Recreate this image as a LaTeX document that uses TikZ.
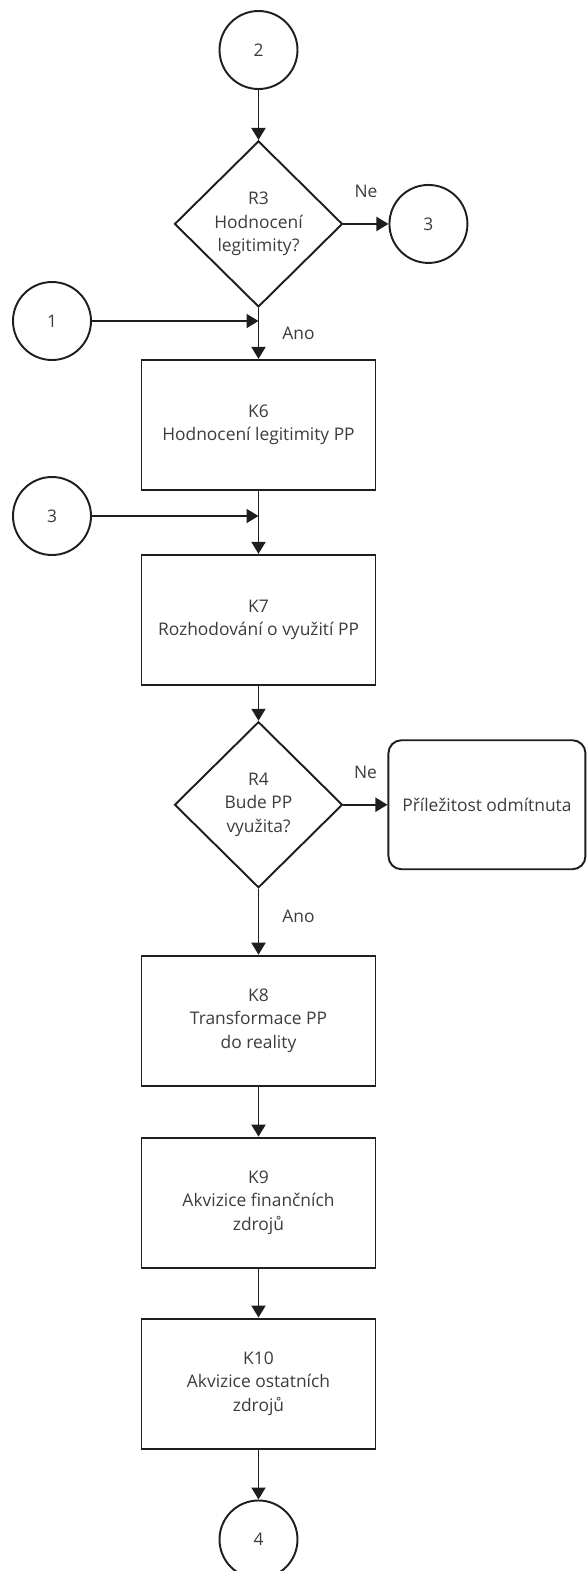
\documentclass[tikz,border=0pt]{standalone}
\usepackage{fontspec}
\setmainfont{Open Sans}
\usetikzlibrary{positioning,arrows.meta,calc,shapes.geometric}
\definecolor{fcline}{RGB}{30,30,30}
\definecolor{fctext}{RGB}{60,60,60}
\tikzset{
  stepbox/.style={draw=fcline, line width=1.1pt, align=center, minimum width=4.68cm, minimum height=2.6cm, inner sep=0pt, text=fctext, font=\fontsize{9.9}{13.4}\selectfont},
  decision/.style={draw=fcline, line width=1.1pt, diamond, aspect=1, minimum width=3.36cm, minimum height=3.32cm, inner sep=0pt, align=center, text=fctext, font=\fontsize{9.9}{13.4}\selectfont},
  connector/.style={draw=fcline, line width=1.1pt, circle, minimum size=1.56cm, inner sep=0pt, text=fctext, font=\fontsize{9.9}{13.4}\selectfont},
  endbox/.style={draw=fcline, line width=1.1pt, rounded corners=0.26cm, align=center, minimum width=3.94cm, minimum height=2.58cm, text=fctext, font=\fontsize{9.9}{13.4}\selectfont},
  lbl/.style={inner sep=0pt, text=fctext, font=\fontsize{9.9}{13.4}\selectfont},
  arrow/.style={-{Triangle[length=0.24cm, width=0.28cm]}, line width=1.1pt, fcline}
}
\begin{document}
\begin{tikzpicture}
        \useasboundingbox (0,0) rectangle (11.74,-31.42);
        \node[connector] (c2) at (5.17,-1.0) {2};
        \node[decision, below=1.0cm of c2] (r3) {R3\\Hodnocení\\legitimity?};
        \node[connector, right=0.9cm of r3] (c3r) {3};
        \node[stepbox, below=1.02cm of r3] (k6) {K6\\Hodnocení legitimity PP};
        \node[connector] (c1) at (1.04,-6.42) {1};
        \node[stepbox, below=1.26cm of k6] (k7) {K7\\Rozhodování o využití PP};
        \node[connector] (c3l) at (1.04,-10.32) {3};
        \node[decision, below=0.70cm of k7] (r4) {R4\\Bude PP\\využita?};
        \node[endbox, right=0.88cm of r4] (rej) {Příležitost odmítnuta};
        \node[stepbox, below=1.32cm of r4] (k8) {K8\\Transformace PP\\do reality};
        \node[stepbox, below=1.0cm of k8] (k9) {K9\\Akvizice finančních\\zdrojů};
        \node[stepbox, below=0.98cm of k9] (k10) {K10\\Akvizice ostatních\\zdrojů};
        \node[connector, below=1.0cm of k10] (c4) {4};
        \coordinate (j1) at (r3.south |- c1);
        \coordinate (j3) at (k6.south |- c3l);
        \draw[arrow] (r3) -- node[lbl, pos=0.5, yshift=0.66cm] {Ne} (c3r);
        \draw[arrow] (r3) -- node[lbl, pos=0.5, xshift=0.8cm] {Ano} (k6);
        \draw[arrow] (r4) -- node[lbl, pos=0.5, yshift=0.64cm] {Ne} (rej);
        \draw[arrow] (r4) -- node[lbl, pos=0.42, xshift=0.8cm] {Ano} (k8);
        \draw[arrow] (c1) -- (j1);
        \draw[arrow] (c3l) -- (j3);
        \foreach \a/\b in {c2/r3,k6/k7,k7/r4,k8/k9,k9/k10,k10/c4}{\draw[arrow] (\a) -- (\b);}
      \end{tikzpicture}
\end{document}
